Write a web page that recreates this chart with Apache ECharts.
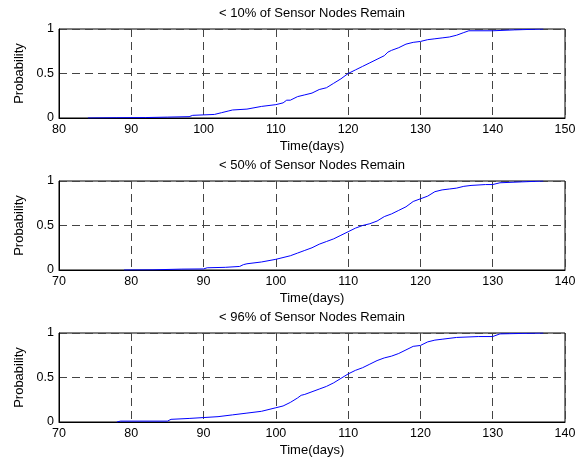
<!DOCTYPE html>
<html>
<head>
<meta charset="utf-8">
<script src="https://cdn.jsdelivr.net/npm/echarts@6/dist/echarts.min.js"></script>
<style>
  html, body { margin: 0; padding: 0; background: #fff; }
  #chart { width: 583px; height: 462px; }
</style>
</head>
<body>
<div id="chart"></div>
<script>
// panel titles
const titles = ['< 10% of Sensor Nodes Remain', '< 50% of Sensor Nodes Remain', '< 96% of Sensor Nodes Remain']

// x ranges per panel
const xMins = [80, 70, 70]
const xMaxs = [150, 140, 140]
const yTicks = [0, 0.5, 1]

// < 10% remain
const t10 = [84, 88, 92, 95, 98, 98.5, 100, 101.5, 102.5, 103.5, 104, 106, 108, 110, 111, 111.5, 112, 113, 114, 115, 116, 117, 118, 119, 120, 121, 122, 123, 124, 125, 125.5, 126, 127, 128, 129, 130, 131, 132, 133, 134, 135, 136, 136.7, 140, 143, 147]
const p10 = [0, 0.003, 0.005, 0.01, 0.015, 0.03, 0.035, 0.04, 0.06, 0.08, 0.09, 0.1, 0.13, 0.15, 0.17, 0.2, 0.2, 0.24, 0.26, 0.28, 0.32, 0.34, 0.39, 0.44, 0.5, 0.54, 0.58, 0.62, 0.66, 0.7, 0.74, 0.76, 0.79, 0.83, 0.85, 0.86, 0.88, 0.89, 0.9, 0.91, 0.93, 0.96, 0.98, 0.98, 0.99, 1]

// < 50% remain
const t50 = [79, 83, 87, 90, 90.5, 93, 95, 95.5, 96, 98, 100, 102, 103, 104, 105, 106, 107, 108, 109, 110, 111, 112, 113, 114, 115, 116, 117, 118, 119, 120, 121, 122, 123, 124, 125, 126, 127, 129, 130, 131, 134, 137]
const p50 = [0, 0.002, 0.01, 0.012, 0.025, 0.03, 0.04, 0.06, 0.07, 0.09, 0.12, 0.16, 0.19, 0.22, 0.25, 0.29, 0.32, 0.35, 0.39, 0.43, 0.47, 0.5, 0.52, 0.55, 0.6, 0.63, 0.67, 0.71, 0.77, 0.8, 0.83, 0.88, 0.9, 0.91, 0.92, 0.94, 0.95, 0.96, 0.96, 0.98, 0.99, 1]

// < 96% remain
const t96 = [78, 78.5, 85, 85.5, 88, 90, 92, 94, 96, 98, 100, 101, 102, 103, 103.5, 104, 105, 106, 107, 108, 109, 110, 111, 112, 113, 114, 115, 116, 117, 118, 119, 120, 121, 122, 123, 125, 128, 130, 131, 134, 137]
const p96 = [0, 0.01, 0.01, 0.03, 0.04, 0.05, 0.06, 0.08, 0.1, 0.12, 0.16, 0.18, 0.22, 0.27, 0.3, 0.31, 0.34, 0.37, 0.4, 0.44, 0.49, 0.54, 0.58, 0.61, 0.65, 0.69, 0.72, 0.74, 0.77, 0.81, 0.85, 0.86, 0.9, 0.92, 0.93, 0.95, 0.96, 0.96, 0.99, 0.995, 1]

const times = [t10, t50, t96]
const probs = [p10, p50, p96]

const chart = echarts.init(document.getElementById('chart'))

const font = 'Liberation Sans, Arial, sans-serif'
const gridTops = [29, 181, 333]
const gridHeight = 89
const plotLeft = 59
const plotRight = 18
const dash = { color: '#444', width: 1, type: [8, 5] }

const option = {
  backgroundColor: '#fff',
  animation: false,
  textStyle: { fontFamily: font },
  graphic: titles.map((t, i) => ({
    type: 'text',
    x: plotLeft + (583 - plotLeft - plotRight) / 2,
    y: gridTops[i] - 16,
    style: { text: t, fontSize: 13, fontFamily: font, fill: '#000', textAlign: 'center', textVerticalAlign: 'middle' }
  })),
  grid: gridTops.map(top => ({
    left: plotLeft,
    right: plotRight,
    top: top,
    height: gridHeight,
    show: true,
    borderColor: '#000',
    borderWidth: 1,
    backgroundColor: '#fff'
  })),
  xAxis: gridTops.map((_, i) => ({
    type: 'value',
    gridIndex: i,
    min: xMins[i],
    max: xMaxs[i],
    interval: 10,
    name: 'Time(days)',
    nameLocation: 'middle',
    nameGap: 22,
    nameTextStyle: { color: '#000', fontSize: 13, fontFamily: font },
    axisLine: { show: true, lineStyle: { color: '#000' } },
    axisTick: { show: false },
    axisLabel: { color: '#000', fontSize: 12.5, fontFamily: font, margin: 5 },
    splitLine: { show: true, lineStyle: dash }
  })),
  yAxis: gridTops.map((_, i) => ({
    type: 'value',
    gridIndex: i,
    min: yTicks[0],
    max: yTicks[yTicks.length - 1],
    interval: 0.5,
    name: 'Probability',
    nameLocation: 'middle',
    nameGap: 27,
    nameTextStyle: { color: '#000', fontSize: 13, fontFamily: font },
    axisLine: { show: true, lineStyle: { color: '#000' } },
    axisTick: { show: false },
    axisLabel: { color: '#000', fontSize: 12.5, fontFamily: font, margin: 5 },
    splitLine: { show: true, lineStyle: dash }
  })),
  series: times.map((t, i) => ({
    type: 'line',
    xAxisIndex: i,
    yAxisIndex: i,
    showSymbol: false,
    symbol: 'none',
    lineStyle: { color: '#0000ff', width: 1 },
    data: t.map((x, k) => [x, probs[i][k]])
  }))
}

chart.setOption(option)
</script>
</body>
</html>
